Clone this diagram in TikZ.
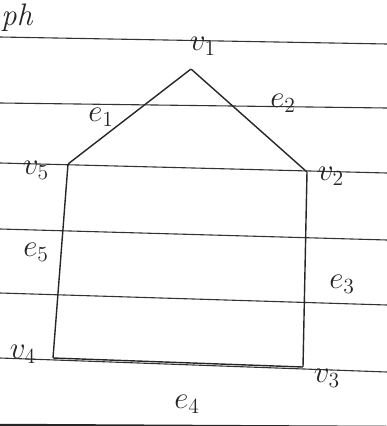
\documentclass[tikz,border=0pt]{standalone}
\usepackage{graphicx}
\newcommand{\biglbl}[1]{\scalebox{1.5}{\huge #1}}
\begin{document}
\begin{tikzpicture}[x=1pt,y=-1pt,
  rule/.style={line width=1.1pt,draw=black!80},
  edge/.style={line width=1.4pt,draw=black!85},
  vert/.style={inner sep=0pt,minimum size=0pt},
  lbl/.style={text=black!85,inner sep=0pt}]
\useasboundingbox (0,0) rectangle (387,426);
% ruled paper lines
\draw[rule] (0,37) -- (387,44);
\draw[rule] (0,103) -- (387,108);
\draw[rule] (0,163) -- (387,173);
\draw[rule] (0,229) -- (387,240);
\draw[rule] (0,293) -- (387,305);
\draw[rule] (0,358) -- (387,372);
\draw[line width=2.5pt,draw=black!85] (0,425) -- (387,427);
% vertices
\node[vert] (v1) at (191,69) {};
\node[vert] (v2) at (307,172) {};
\node[vert] (v3) at (303,367) {};
\node[vert] (v4) at (53,358) {};
\node[vert] (v5) at (68,164) {};
% edges
\draw[edge] (v1) -- (v2);
\draw[edge] (v2) -- (v3);
\draw[edge] (v3) -- (v4);
\draw[edge] (v4) -- (v5);
\draw[edge] (v5) -- (v1);
% labels
\node[lbl,anchor=west] (t0) at (1,18) {\biglbl{\textit{ph}}};
\node[lbl] (l1) at (203,46) {\biglbl{$v_1$}};
\node[lbl] (l2) at (331,176) {\biglbl{$v_2$}};
\node[lbl] (l3) at (327,378) {\biglbl{$v_3$}};
\node[lbl] (l4) at (23,354) {\biglbl{$v_4$}};
\node[lbl] (l5) at (36,170) {\biglbl{$v_5$}};
\node[lbl] (e1) at (101,117) {\biglbl{$e_1$}};
\node[lbl] (e2) at (283,103) {\biglbl{$e_2$}};
\node[lbl] (e3) at (342,284) {\biglbl{$e_3$}};
\node[lbl] (e4) at (187,404) {\biglbl{$e_4$}};
\node[lbl] (e5) at (36,252) {\biglbl{$e_5$}};
\end{tikzpicture}
\end{document}
